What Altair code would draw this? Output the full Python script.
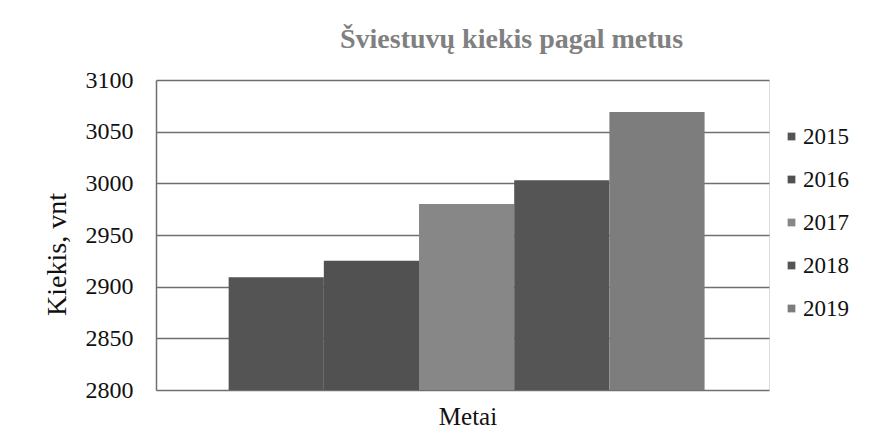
import altair as alt
import pandas as pd

years = ["2015", "2016", "2017", "2018", "2019"]
values = [2909, 2925, 2980, 3003, 3069]
colors = ["#545454", "#515151", "#878787", "#555555", "#7d7d7d"]
y_ticks = [2800, 2850, 2900, 2950, 3000, 3050, 3100]
x_title = ["Metai"]

df = pd.DataFrame({"Metai": years, "Kiekis": values})

FONT = "Liberation Serif"

bars = alt.Chart(df).mark_bar(stroke=None, clip=True).encode(
    x=alt.X("Metai:N", title=None,
            scale=alt.Scale(paddingInner=0, paddingOuter=0.72, align=0.53),
            axis=alt.Axis(labels=False, ticks=False, domain=False)),
    y=alt.Y("Kiekis:Q", title="Kiekis, vnt",
            scale=alt.Scale(domain=[2800, 3100], nice=False, zero=False),
            axis=alt.Axis(values=y_ticks, format="d", ticks=False, domain=True,
                          domainColor="#6f6f6f", domainWidth=1.5, grid=True,
                          gridColor="#6f6f6f", gridWidth=1.5,
                          labelPadding=23, titlePadding=14, titleY=174)),
    color=alt.Color("Metai:N", scale=alt.Scale(domain=years, range=colors),
                    legend=alt.Legend(title=None, orient="none", legendX=624, legendY=45,
                                      symbolType="square", symbolSize=60,
                                      rowPadding=19, labelOffset=0)),
)

xtitle = alt.Chart(pd.DataFrame({"t": x_title})).mark_text(
    font=FONT, fontSize=25, color="#111111", baseline="alphabetic", align="center"
).encode(text="t:N", x=alt.value(312), y=alt.value(345))

chart = alt.layer(bars, xtitle).properties(
    width=613,
    height=310,
    title=alt.TitleParams("Šviestuvų kiekis pagal metus", font=FONT, fontSize=28,
                          fontWeight="bold", color="#808080", anchor="middle", dx=49,
                          offset=14),
    autosize=alt.AutoSizeParams(type="none"),
    padding={"left": 148, "top": 72, "right": 92, "bottom": 42},
).configure_view(
    stroke=None
).configure(
    background="white"
).configure_axisY(
    labelFont=FONT, labelFontSize=24, labelColor="#111111",
    titleFont=FONT, titleFontSize=28, titleFontWeight="normal", titleColor="#111111"
).configure_legend(
    labelFont=FONT, labelFontSize=23, labelColor="#111111"
)

chart.save("out.html", embed_options={"renderer": "svg", "actions": False})
